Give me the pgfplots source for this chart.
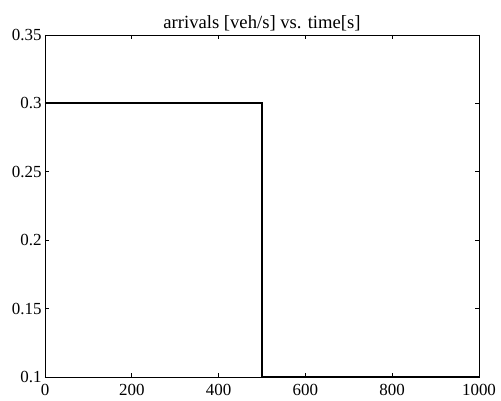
\documentclass[border=0pt]{standalone}
\usepackage{fontspec}
\setmainfont{Liberation Serif}
\usepackage{pgfplots}
\pgfplotsset{compat=1.18}
\begin{document}
\begin{tikzpicture}
\begin{axis}[
  scale only axis,
  width=434bp, height=342bp,
  xmin=0, xmax=1000, ymin=0.1, ymax=0.35,
  xtick={0,200,...,1000},
  ytick={0.1,0.15,0.2,0.25,0.3,0.35},
  tick align=inside,
  major tick length=4bp,
  axis line style={line width=0.8bp},
  every tick/.style={black, line width=0.6bp},
  tick label style={font=\fontsize{17}{20}\selectfont},
  /pgf/number format/assume math mode=true,
  /pgf/number format/1000 sep={},
  yticklabel style={/pgf/number format/fixed, /pgf/number format/precision=2},
  title={arrivals [veh/s] vs. time[s]},
  title style={font=\fontsize{18.7}{22}\selectfont, yshift=-5bp},
  xticklabel style={yshift=-3.5bp},
  yticklabel style={xshift=0bp},
]
\addplot[black, line width=1.8bp] coordinates {(0,0.3) (500,0.3) (500,0.1) (1000,0.1)};
\end{axis}
\pgfresetboundingbox
\useasboundingbox ([xshift=-45bp,yshift=-24bp]current axis.south west) rectangle ([xshift=22bp,yshift=35bp]current axis.north east);
\end{tikzpicture}
\end{document}
